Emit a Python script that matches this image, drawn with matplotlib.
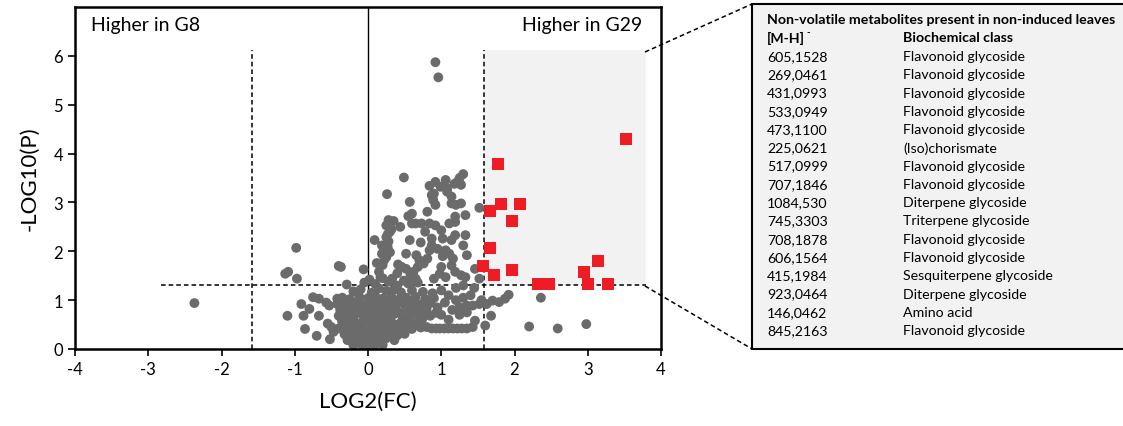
import matplotlib.pyplot as plt
from matplotlib.patches import Rectangle
from matplotlib.lines import Line2D

plt.rcParams['font.family'] = ['Lato', 'DejaVu Sans']
plt.rcParams['axes.unicode_minus'] = False

# gray points (non-significant metabolites)
gray_x = [0.92, 0.96, 0.49, 0.26,
          0.84, 0.92, 0.99, 1.06, 1.08, 1.22, 1.30, 1.27, 0.90, 1.14, 0.87, 1.08, 1.14, 1.20, 1.27, 0.92, 0.89, 1.25, 1.18,
          0.57, 1.52, 1.33, 1.19, 0.60, 0.55, 0.81, 0.28, 0.25,
          0.60, 0.65, 0.73, 0.84, 0.92, 1.00, 1.11, 1.19, 0.44,
          0.30, 0.25, 0.27, 0.57, 0.87, 1.02, 1.19, 1.33, 1.14,
          0.09, 0.19, 0.22, 0.27, 1.30, 1.35, 1.06, 1.11, 1.16, 0.87, 0.84, 0.81, 0.70, 0.76, 0.68,
          0.52, 0.41, 0.46, 0.52, 0.19, 0.22,
          -0.98, -1.13, -1.09, -0.97, -0.40, -0.37, -0.06,
          1.14, 1.00, 0.98, 1.06, 1.19, 1.27, 1.33, 1.52, 1.46,
          0.17, 0.33, 0.49, 0.65, 0.90, 0.68, -0.29,
          -0.75, -0.67, -0.91, -0.80, -0.88, -1.10, -0.86, -0.70, -0.67, -0.53, -0.42, -0.57,
          -0.50, -0.55, -0.47, -0.52, -2.37,
          1.92, 1.87, 1.79, 1.70, 1.62, 1.52, 1.43, 1.35, 1.25, 1.55,
          1.68, 1.46, 1.43, 2.36, 2.20, 2.59, 2.98, 1.60,
          0.87, 0.93, 0.98, 1.04, 1.10, 1.16, 1.22, 1.28, 1.35, 0.80,
          1.00, 1.10, 1.20, 1.30, 1.05, 1.15, 1.25, 1.35, 1.10, 1.00, 0.95, 1.40, 1.45, 1.20, 1.30,
          0.15, 0.20, 0.25, 0.30, 0.12, 0.28, 0.32, 0.35, 0.62, 0.66, 0.72, 0.78, 0.95, 1.02, 0.58, 0.40,
          -0.05, 0.02, 0.10, 0.20, 0.28, 0.40, 0.55,
          -0.20, -0.10, 0.05, 0.15, 0.25, 0.35, 0.45, 0.60, 0.75, 0.88,
          -0.35, -0.25, -0.12, 0.00, 0.10, 0.20, 0.32, 0.42, 0.52, 0.65, 0.78, 0.90,
          -0.42, -0.30, -0.18, -0.08, 0.05, 0.15, 0.25, 0.38, 0.50, 0.62, 0.72, 0.85,
          -0.38, -0.26, -0.15, -0.03, 0.08, 0.18, 0.30, 0.40, 0.55, 0.68, 0.80,
          -0.40, -0.28, -0.18, -0.06, 0.03, 0.13, 0.24, 0.35, 0.47, 0.58, 0.70, 0.85,
          -0.35, -0.22, -0.10, 0.00, 0.10, 0.20, 0.32, 0.44, 0.55, 0.66,
          -0.40, -0.30, -0.18, -0.08, 0.04, 0.14, 0.25, 0.36, 0.48, 0.60, 0.72,
          -0.32, -0.22, -0.12, -0.02, 0.08, 0.18, 0.28, 0.40, 0.50,
          -0.28, -0.16, -0.06, 0.04, 0.14, 0.24, 0.36,
          -0.20, -0.10, 0.00, 0.10, 0.20,
          -0.02, 0.03,
          -0.30, -0.14, 0.02, 0.17, 0.30, 0.46, 0.60, 0.82,
          -0.33, -0.20, -0.04, 0.12, 0.26, 0.44, 0.62, 0.76, 0.93,
          -0.36, -0.20, -0.02, 0.14, 0.29, 0.52, 0.74,
          -0.26, -0.12, 0.06, 0.22, 0.38, 0.56,
          -0.24, -0.08, 0.09, 0.28, 0.45,
          -0.15, 0.02, 0.19, 0.31]
gray_y = [5.87, 5.56, 3.51, 3.17,
          3.34, 3.42, 3.32, 3.46, 3.29, 3.42, 3.58, 3.36, 3.18, 3.12, 3.15, 3.22, 2.98, 2.95, 2.98, 2.95, 3.05, 3.50, 3.38,
          3.01, 2.89, 2.74, 2.71, 2.77, 2.72, 2.81, 2.64, 2.53,
          2.57, 2.57, 2.57, 2.57, 2.53, 2.43, 2.57, 2.60, 2.50,
          2.40, 2.29, 2.35, 2.23, 2.26, 2.26, 2.33, 2.33, 2.23,
          2.23, 2.12, 2.02, 2.08, 2.12, 1.92, 2.02, 1.95, 1.85, 2.12, 2.02, 1.85, 1.82, 1.75, 1.68,
          1.95, 1.73, 1.68, 1.64, 1.95, 1.82,
          2.07, 1.54, 1.58, 1.44, 1.70, 1.68, 1.63,
          1.71, 1.68, 1.54, 1.47, 1.58, 1.51, 1.47, 1.44, 1.64,
          1.47, 1.44, 1.40, 1.44, 1.44, 1.36, 1.32,
          1.06, 1.03, 0.92, 0.82, 0.68, 0.68, 0.41, 0.27, 0.68, 0.89, 1.03, 0.95,
          0.45, 0.52, 0.35, 0.20, 0.94,
          1.11, 1.03, 0.96, 0.99, 0.92, 0.92, 0.89, 0.89, 0.86, 1.00,
          0.68, 0.58, 0.45, 1.05, 0.46, 0.42, 0.51, 0.48,
          0.42, 0.42, 0.42, 0.42, 0.42, 0.42, 0.42, 0.42, 0.42, 0.45,
          1.20, 1.10, 1.00, 1.05, 0.95, 0.80, 0.70, 0.75, 0.60, 0.70, 0.85, 1.10, 1.25, 1.25, 1.30,
          1.58, 1.72, 1.88, 1.98, 1.76, 2.20, 2.45, 2.62, 1.58, 1.92, 2.18, 2.40, 2.05, 1.90, 1.52, 1.55,
          1.36, 1.42, 1.33, 1.45, 1.38, 1.30, 1.34,
          1.18, 1.22, 1.15, 1.24, 1.19, 1.21, 1.16, 1.20, 1.17, 1.14,
          1.05, 1.02, 1.07, 1.04, 1.08, 1.03, 1.06, 1.01, 1.05, 1.07, 1.02, 1.04,
          0.92, 0.90, 0.94, 0.91, 0.93, 0.89, 0.95, 0.92, 0.90, 0.93, 0.91, 0.94,
          0.80, 0.82, 0.78, 0.81, 0.79, 0.83, 0.80, 0.77, 0.82, 0.79, 0.81,
          0.68, 0.66, 0.70, 0.67, 0.69, 0.65, 0.68, 0.71, 0.66, 0.69, 0.67, 0.68,
          0.55, 0.57, 0.53, 0.56, 0.54, 0.58, 0.55, 0.53, 0.56, 0.54,
          0.42, 0.44, 0.40, 0.43, 0.41, 0.45, 0.42, 0.40, 0.43, 0.41, 0.44,
          0.30, 0.32, 0.28, 0.31, 0.29, 0.33, 0.30, 0.28, 0.31,
          0.18, 0.20, 0.16, 0.19, 0.17, 0.21, 0.18,
          0.08, 0.10, 0.07, 0.09, 0.08,
          0.01, 0.02,
          0.98, 0.97, 0.99, 0.96, 0.98, 0.97, 0.99, 0.98,
          0.74, 0.73, 0.75, 0.72, 0.74, 0.73, 0.75, 0.72, 0.74,
          0.61, 0.62, 0.60, 0.61, 0.62, 0.60, 0.61,
          0.48, 0.49, 0.47, 0.48, 0.49, 0.47,
          0.36, 0.37, 0.35, 0.36, 0.37,
          0.24, 0.25, 0.24, 0.25]

# red squares: significant, higher in G29
red_x = [3.52, 1.77, 1.66, 1.81, 2.07, 1.96, 1.66, 1.57, 1.72, 1.96, 2.32, 2.47, 2.95, 3.14, 3.00, 3.27]
red_y = [4.29, 3.78, 2.83, 2.96, 2.96, 2.61, 2.07, 1.70, 1.52, 1.62, 1.33, 1.33, 1.58, 1.81, 1.33, 1.33]

# thresholds
fc_cut = 1.58
p_cut = 1.3

mz_values = ['605,1528', '269,0461', '431,0993', '533,0949', '473,1100', '225,0621',
             '517,0999', '707,1846', '1084,530', '745,3303', '708,1878', '606,1564',
             '415,1984', '923,0464', '146,0462', '845,2163']
classes = ['Flavonoid glycoside', 'Flavonoid glycoside', 'Flavonoid glycoside',
           'Flavonoid glycoside', 'Flavonoid glycoside', '(Iso)chorismate',
           'Flavonoid glycoside', 'Flavonoid glycoside', 'Diterpene glycoside',
           'Triterpene glycoside', 'Flavonoid glycoside', 'Flavonoid glycoside',
           'Sesquiterpene glycoside', 'Diterpene glycoside', 'Amino acid',
           'Flavonoid glycoside']

W, H = 1123, 427
fig = plt.figure(figsize=(W / 100, H / 100), dpi=100)
ax = fig.add_axes([75 / W, 1 - 350 / H, (661 - 75) / W, (350 - 8) / H])

# shaded significant region
ax.add_patch(Rectangle((fc_cut, p_cut), 3.8 - fc_cut, 6.12 - p_cut,
                       facecolor='#f2f2f2', edgecolor='none', zorder=0))

ax.plot([0, 0], [0, 7], color='black', lw=1.0, zorder=1)
ax.plot([-fc_cut, -fc_cut], [0, 6.12], color='black', lw=1.1, ls=(0, (3, 2)), zorder=1)
ax.plot([fc_cut, fc_cut], [0, 6.12], color='black', lw=1.1, ls=(0, (3, 2)), zorder=1)
ax.plot([-2.83, 3.8], [p_cut, p_cut], color='black', lw=1.1, ls=(0, (3, 2)), zorder=1)

ax.scatter(gray_x, gray_y, s=50, color='#6b6b6b', edgecolors='none', zorder=2)
ax.scatter(red_x, red_y, s=75, marker='s', color='#ee1c24', edgecolors='none', zorder=3)

ax.set_xlim(-4, 4)
ax.set_ylim(0, 7)
ax.set_xticks(range(-4, 5))
ax.set_yticks(range(0, 7))
ax.tick_params(direction='out', length=5, width=1.2, labelsize=12)
for s in ax.spines.values():
    s.set_linewidth(1.8)

ax.text(-3.78, 6.65, 'Higher in G8', fontsize=14, va='center', ha='left')
ax.text(3.75, 6.65, 'Higher in G29', fontsize=14, va='center', ha='right')
ax.set_xlabel('LOG2(FC)', fontsize=16, labelpad=10)
ax.set_ylabel('-LOG10(P)', fontsize=16, labelpad=10)

# table box on the right
fig.patches.append(Rectangle((752 / W, 1 - 350 / H), 0.4, (350 - 5) / H, transform=fig.transFigure,
                             facecolor='#f2f2f2', edgecolor='black', lw=1.5))
for y0, y1 in [(53, 5), (287, 350)]:
    fig.lines.append(Line2D([645 / W, 752 / W], [1 - y0 / H, 1 - y1 / H], transform=fig.transFigure,
                            color='black', lw=1.1, ls=(0, (3, 2))))

fs = 10.2
fig.text(767 / W, 1 - 20 / H, 'Non-volatile metabolites present in non-induced leaves',
         fontsize=fs, fontweight='bold', va='center')
fig.text(767 / W, 1 - 38 / H, '[M-H]', fontsize=fs, fontweight='bold', va='center')
fig.text(806 / W, 1 - 33 / H, '-', fontsize=7, fontweight='bold', va='center')
fig.text(903 / W, 1 - 38 / H, 'Biochemical class', fontsize=fs, fontweight='bold', va='center')
for i, (mz, cl) in enumerate(zip(mz_values, classes)):
    yy = 1 - (57 + i * 18.27) / H
    fig.text(767 / W, yy, mz, fontsize=fs, va='center')
    fig.text(903 / W, yy, cl, fontsize=fs, va='center')

fig.savefig('out.png', dpi=100)
